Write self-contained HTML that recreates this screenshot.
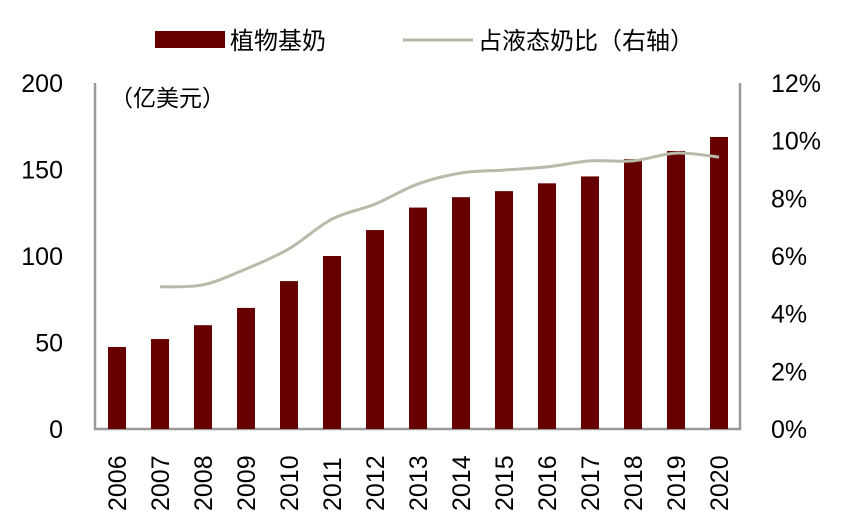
<!DOCTYPE html>
<html><head><meta charset="utf-8"><style>
body{margin:0;background:#fff;}
svg text{font-family:"Liberation Sans","Noto Sans CJK SC",sans-serif;fill:#000;}
</style></head><body>
<svg width="852" height="526">
<g id="legend">
<rect x="155" y="31" width="70" height="17" fill="#660000"/>
<text x="230" y="49" font-size="24">植物基奶</text>
<line x1="403" y1="40" x2="473" y2="40" stroke="#b8bba9" stroke-width="3"/>
<text x="478" y="49" font-size="24">占液态奶比（右轴）</text>
</g>
<text x="110" y="106" font-size="23">（亿美元）</text>
<g id="axes"></g><g id="bars"></g><g id="line"></g>
</svg>
<script>
const years=["2006","2007","2008","2009","2010","2011","2012","2013","2014","2015","2016","2017","2018","2019","2020"];
const sales=[47.4,52,60,70,85.5,100,115,128,134,137.5,142,146,156,160.7,168.8];
const share=[null,4.93,5.0,5.55,6.25,7.28,7.8,8.5,8.88,8.98,9.09,9.3,9.3,9.57,9.43];
const leftTicks=[0,50,100,150,200];
const rightTicks=[0,2,4,6,8,10,12];
const NS="http://www.w3.org/2000/svg";
const X0=95,X1=740,Y0=429,Y1=83;
const yL=v=>Y0-(v/200)*(Y0-Y1);
const yR=v=>Y0-(v/12)*(Y0-Y1);
const xC=i=>117+i*(719-117)/(years.length-1);
function mk(t,a,p){const e=document.createElementNS(NS,t);for(const k in a)e.setAttribute(k,a[k]);p.appendChild(e);return e;}
const ax=document.getElementById('axes'),bg=document.getElementById('bars'),lg=document.getElementById('line');
let e;
e=mk('polyline',{points:`${X0},${Y1} ${X0},${Y0} ${X1},${Y0} ${X1},${Y1}`,fill:'none',stroke:'#999',"stroke-width":2.5},ax);


leftTicks.forEach(v=>{const t=mk('text',{x:63,y:yL(v)+9,"font-size":25,"text-anchor":"end"},ax);t.textContent=v;

});
rightTicks.forEach(v=>{const t=mk('text',{x:771,y:yR(v)+9,"font-size":25},ax);t.textContent=v+'%';

});
years.forEach((y,i)=>{const t=mk('text',{x:0,y:0,"font-size":25,transform:`translate(${xC(i)+9},511) rotate(-90)`},ax);t.textContent=y;

});
sales.forEach((v,i)=>{const r=mk('rect',{x:xC(i)-9,y:yL(v),width:18,height:Y0-yL(v),fill:'#660000'},bg);

});
const pts=[];share.forEach((v,i)=>{if(v!=null)pts.push([xC(i),yR(v)]);});
let d=`M${pts[0][0]},${pts[0][1]}`;
for(let i=0;i<pts.length-1;i++){const p0=pts[Math.max(0,i-1)],p1=pts[i],p2=pts[i+1],p3=pts[Math.min(pts.length-1,i+2)];
d+=` C${p1[0]+(p2[0]-p0[0])/6},${p1[1]+(p2[1]-p0[1])/6} ${p2[0]-(p3[0]-p1[0])/6},${p2[1]-(p3[1]-p1[1])/6} ${p2[0]},${p2[1]}`;}
e=mk('path',{d:d,fill:'none',stroke:'#b8bba9',"stroke-width":3},lg);


</script>
</body></html>
